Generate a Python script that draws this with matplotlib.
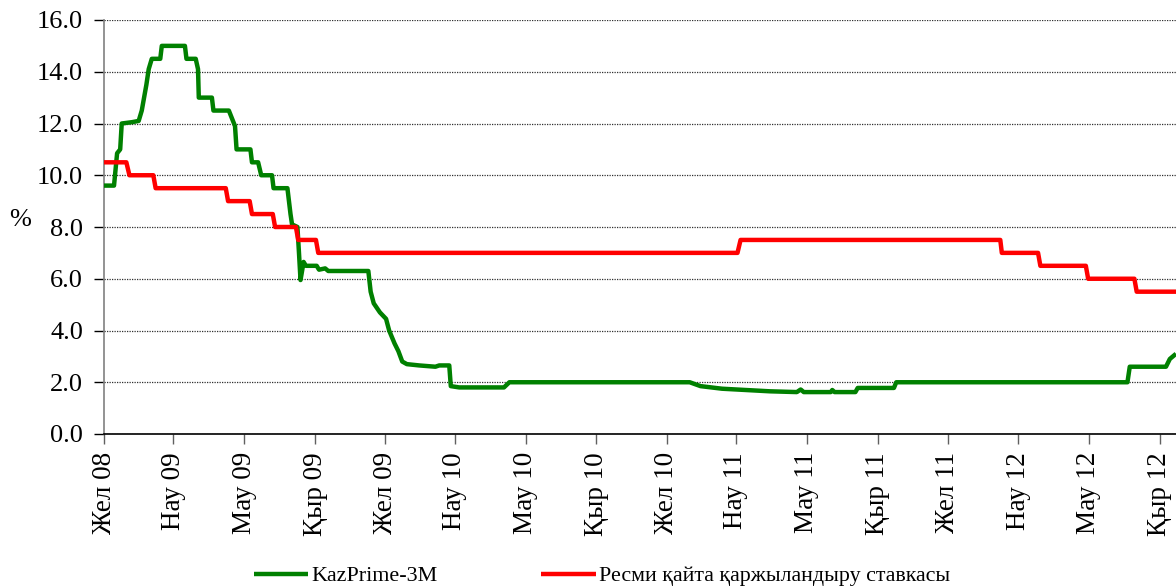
import numpy as np
import matplotlib
matplotlib.use("Agg")
import matplotlib.pyplot as plt
import matplotlib.dates as mdates

plt.rcParams['font.family'] = ['Liberation Serif', 'DejaVu Serif']

# KazPrime-3M fixing, %
kazprime_dates = [
    "2008-12-01", "2008-12-14", "2008-12-18", "2008-12-22", "2008-12-24",
    "2009-01-06", "2009-01-15", "2009-01-19", "2009-01-25", "2009-01-28",
    "2009-02-01", "2009-02-12", "2009-02-14", "2009-03-16", "2009-03-18",
    "2009-03-30", "2009-04-02", "2009-04-03", "2009-04-20", "2009-04-22",
    "2009-05-12", "2009-05-16", "2009-05-20", "2009-05-22", "2009-06-09",
    "2009-06-11", "2009-06-19", "2009-06-23", "2009-07-07", "2009-07-09",
    "2009-07-27", "2009-07-31", "2009-08-02", "2009-08-09", "2009-08-11",
    "2009-08-13", "2009-08-17", "2009-08-20", "2009-09-03", "2009-09-06",
    "2009-09-14", "2009-09-18", "2009-11-09", "2009-11-12", "2009-11-16",
    "2009-11-24", "2009-12-02", "2009-12-06", "2009-12-13", "2009-12-18",
    "2009-12-23", "2009-12-29", "2010-01-14", "2010-02-04", "2010-02-09",
    "2010-02-22", "2010-02-24", "2010-03-07", "2010-05-04", "2010-05-11",
    "2010-12-31", "2011-01-14", "2011-02-11", "2011-04-14", "2011-05-19",
    "2011-05-24", "2011-05-28", "2011-07-02", "2011-07-04", "2011-07-07",
    "2011-08-03", "2011-08-06", "2011-09-22", "2011-09-25", "2012-07-21",
    "2012-07-24", "2012-09-09", "2012-09-14", "2012-09-22",
]
kazprime_values = [
    9.6, 9.6, 10.85, 11.0, 12.0,
    12.05, 12.1, 12.5, 13.5, 14.1,
    14.5, 14.5, 15.0, 15.0, 14.5,
    14.5, 14.1, 13.0, 13.0, 12.5,
    12.5, 12.2, 11.9, 11.0, 11.0,
    10.5, 10.5, 10.0, 10.0, 9.5,
    9.5, 8.5, 8.1, 8.0, 7.0,
    5.95, 6.65, 6.5, 6.5, 6.35,
    6.4, 6.3, 6.3, 5.5, 5.05,
    4.7, 4.45, 4.0, 3.5, 3.2,
    2.8, 2.7, 2.65, 2.6, 2.65,
    2.65, 1.85, 1.8, 1.8, 2.0,
    2.0, 1.85, 1.75, 1.65, 1.62,
    1.72, 1.62, 1.62, 1.7, 1.62,
    1.62, 1.78, 1.78, 2.0, 2.0,
    2.6, 2.6, 2.9, 3.1,
]

# Official refinancing rate, %
refi_dates = [
    "2008-12-01", "2008-12-30", "2009-01-03", "2009-02-03", "2009-02-06",
    "2009-05-08", "2009-05-11", "2009-06-08", "2009-06-11", "2009-07-08",
    "2009-07-11", "2009-08-07", "2009-08-10", "2009-09-02", "2009-09-05",
    "2011-03-03", "2011-03-07", "2012-02-07", "2012-02-09", "2012-03-27",
    "2012-03-30", "2012-05-28", "2012-05-31", "2012-07-30", "2012-08-02",
    "2012-09-22",
]
refi_values = [
    10.5, 10.5, 10.0, 10.0, 9.5,
    9.5, 9.0, 9.0, 8.5, 8.5,
    8.0, 8.0, 7.5, 7.5, 7.0,
    7.0, 7.5, 7.5, 7.0, 7.0,
    6.5, 6.5, 6.0, 6.0, 5.5,
    5.5,
]

tick_dates = [
    "2008-12-01", "2009-03-01", "2009-06-01", "2009-09-01",
    "2009-12-01", "2010-03-01", "2010-06-01", "2010-09-01",
    "2010-12-01", "2011-03-01", "2011-06-01", "2011-09-01",
    "2011-12-01", "2012-03-01", "2012-06-01", "2012-09-01",
]
tick_labels = [
    "Жел 08", "Нау 09", "Мау 09", "Қыр 09",
    "Жел 09", "Нау 10", "Мау 10", "Қыр 10",
    "Жел 10", "Нау 11", "Мау 11", "Қыр 11",
    "Жел 11", "Нау 12", "Мау 12", "Қыр 12",
]

series_names = ["KazPrime-3M", "Ресми қайта қаржыландыру ставкасы"]


def to_num(ds):
    return mdates.date2num(np.array(ds, dtype="datetime64[D]"))


fig = plt.figure(figsize=(11.76, 5.87), dpi=100)
ax = fig.add_axes([104 / 1176, 1 - 434 / 587, 1 - 104 / 1176, (434 - 20) / 587])

ax.plot(to_num(kazprime_dates), kazprime_values, color="#008000", lw=3.2,
        solid_joinstyle="round", solid_capstyle="butt", label=series_names[0], zorder=3)
ax.plot(to_num(refi_dates), refi_values, color="#ff0000", lw=3.2,
        solid_joinstyle="round", solid_capstyle="butt", label=series_names[1], zorder=3)

ax.set_xlim(to_num(["2008-12-01"])[0], to_num(["2012-09-22"])[0])
ax.set_ylim(0, 16)
ax.set_yticks(np.arange(0, 16.01, 2))
ax.yaxis.set_major_formatter(matplotlib.ticker.FormatStrFormatter("%.1f"))
ax.set_xticks(to_num(tick_dates))
ax.set_xticklabels(tick_labels, rotation=90, va="top", ha="center")

ax.yaxis.grid(True, linestyle=(0, (1, 1)), color="#303030", linewidth=0.9)
ax.set_axisbelow(True)

for s in ("top", "right"):
    ax.spines[s].set_visible(False)
ax.spines["left"].set_color("#808080")
ax.spines["left"].set_linewidth(1.2)
ax.spines["bottom"].set_color("#000000")
ax.spines["bottom"].set_linewidth(1.2)

ax.tick_params(axis="y", direction="out", length=7, width=1.0, color="#000000",
               labelsize=19, pad=8)
ax.tick_params(axis="x", direction="out", length=7, width=1.0, color="#606060",
               labelsize=19.5, pad=6)

fig.text(20 / 1176, 1 - 220 / 587, "%", fontsize=19, ha="center", va="center")

leg = fig.legend(loc="center", bbox_to_anchor=(602 / 1176, 1 - 576 / 587), ncol=2,
                 frameon=False, fontsize=15.8, handlelength=2.5, handletextpad=0.15,
                 columnspacing=4.7, borderpad=0, borderaxespad=0)

fig.savefig("out.png", dpi=100)
